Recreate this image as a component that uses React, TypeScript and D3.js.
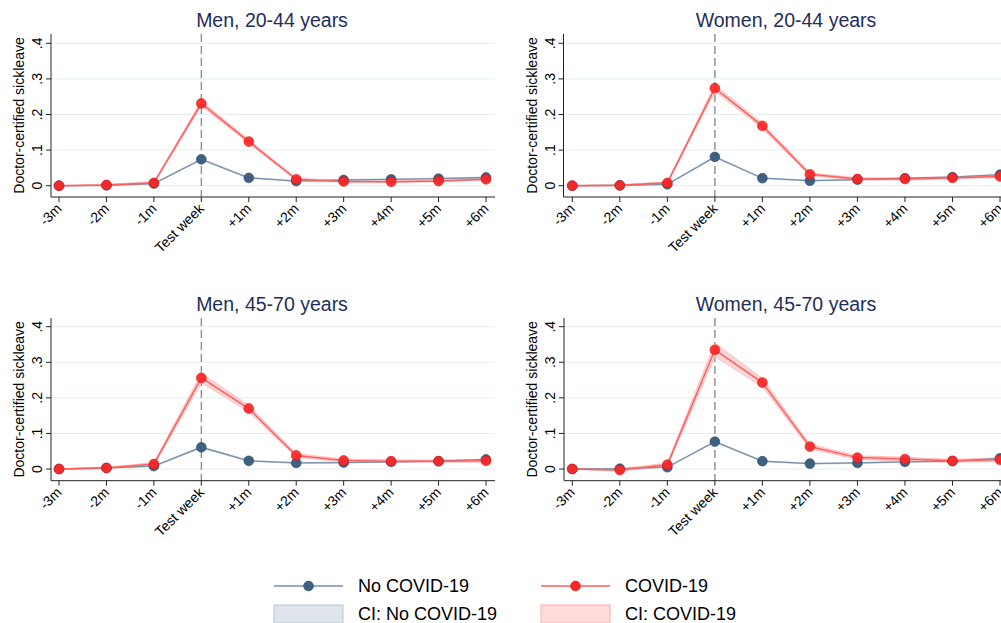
import React from "react";
import * as d3 from "d3";

const periods = ["-3m", "-2m", "-1m", "Test week", "+1m", "+2m", "+3m", "+4m", "+5m", "+6m"];
const yTicks = [0, 0.1, 0.2, 0.3, 0.4];
const yTickLabels = ["0", ".1", ".2", ".3", ".4"];
const panelTitles = ["Men, 20-44 years", "Women, 20-44 years", "Men, 45-70 years", "Women, 45-70 years"];

const noCovid = [
  [0, 0.001, 0.006, 0.074, 0.022, 0.013, 0.016, 0.018, 0.02, 0.023],
  [0, 0.001, 0.004, 0.081, 0.021, 0.014, 0.017, 0.021, 0.024, 0.031],
  [0, 0.003, 0.008, 0.061, 0.023, 0.017, 0.018, 0.02, 0.022, 0.027],
  [0, 0.001, 0.005, 0.077, 0.022, 0.015, 0.017, 0.02, 0.022, 0.03],
];
const noCovidCI = [
  [0.0005, 0.001, 0.001, 0.002, 0.0015, 0.0015, 0.0015, 0.0015, 0.0015, 0.0015],
  [0.0005, 0.001, 0.001, 0.002, 0.0015, 0.0015, 0.0015, 0.0015, 0.0015, 0.0015],
  [0.0005, 0.001, 0.001, 0.002, 0.0015, 0.0015, 0.0015, 0.0015, 0.0015, 0.0015],
  [0.0005, 0.001, 0.001, 0.002, 0.0015, 0.0015, 0.0015, 0.0015, 0.0015, 0.0015],
];
const covid = [
  [0, 0.002, 0.008, 0.231, 0.124, 0.018, 0.012, 0.011, 0.013, 0.018],
  [0, 0.001, 0.008, 0.274, 0.168, 0.032, 0.019, 0.019, 0.022, 0.026],
  [0, 0.003, 0.014, 0.256, 0.17, 0.038, 0.024, 0.022, 0.022, 0.023],
  [0, -0.003, 0.012, 0.335, 0.243, 0.063, 0.032, 0.028, 0.023, 0.026],
];
const covidCI = [
  [0.001, 0.002, 0.003, 0.007, 0.005, 0.003, 0.002, 0.002, 0.002, 0.002],
  [0.001, 0.002, 0.003, 0.009, 0.007, 0.004, 0.003, 0.003, 0.003, 0.003],
  [0.001, 0.002, 0.004, 0.013, 0.009, 0.005, 0.004, 0.004, 0.003, 0.004],
  [0.001, 0.003, 0.005, 0.019, 0.012, 0.006, 0.005, 0.005, 0.004, 0.005],
];

const BLUE_LINE = "#7890a8";
const BLUE_MARK = "#3f6080";
const BLUE_MARK_STROKE = "#2c4a68";
const RED_LINE = "#ff5e5e";
const RED_MARK = "#ff2626";
const RED_MARK_STROKE = "#e01414";
const TITLE = "#1f2d57";
const GRID = "#e6eef0";
const FONT = "Liberation Sans, Arial, sans-serif";

type PanelProps = { idx: number; axisX: number; x0: number; x1: number; y0: number; y4: number; top: number; axisY: number; right: number; titleX: number; titleY: number };

function Panel(p: PanelProps) {
  const x = d3.scalePoint<string>().domain(periods).range([p.x0, p.x1]);
  const y = d3.scaleLinear().domain([0, 0.4]).range([p.y0, p.y4]);
  const idxs = d3.range(periods.length);
  const mkLine = (vals: number[]) =>
    d3.line<number>().x((i) => x(periods[i])!).y((i) => y(vals[i]))(idxs) || "";
  const mkArea = (vals: number[], ci: number[]) =>
    d3
      .area<number>()
      .x((i) => x(periods[i])!)
      .y0((i) => y(vals[i] - ci[i]))
      .y1((i) => y(vals[i] + ci[i]))(idxs) || "";
  const tw = x("Test week")!;
  const yMid = (p.top + p.axisY) / 2;
  return (
    <g>
      <text x={p.titleX} y={p.titleY} textAnchor="middle" fontSize={19.5} fill={TITLE} fontFamily={FONT}>
        {panelTitles[p.idx]}
      </text>
      {yTicks.map((t) => (
        <line key={"g" + t} x1={p.axisX} x2={p.right} y1={y(t)} y2={y(t)} stroke={GRID} strokeWidth={1} />
      ))}
      <line x1={tw} x2={tw} y1={p.top} y2={p.axisY} stroke="#8a8a8a" strokeWidth={1.3} strokeDasharray="8,4" />
      <path d={mkArea(noCovid[p.idx], noCovidCI[p.idx])} fill="#dfe5eb" stroke="#b9c6d3" strokeWidth={0.6} />
      <path d={mkArea(covid[p.idx], covidCI[p.idx])} fill="#ffcccc" fillOpacity={0.8} stroke="#ffaaaa" strokeWidth={0.7} />
      <path d={mkLine(noCovid[p.idx])} fill="none" stroke={BLUE_LINE} strokeWidth={1.3} />
      <path d={mkLine(covid[p.idx])} fill="none" stroke={RED_LINE} strokeWidth={1.5} />
      {idxs.map((i) => (
        <circle key={"b" + i} cx={x(periods[i])!} cy={y(noCovid[p.idx][i])} r={4.9} fill={BLUE_MARK} stroke={BLUE_MARK_STROKE} strokeWidth={0.6} />
      ))}
      {idxs.map((i) => (
        <circle key={"r" + i} cx={x(periods[i])!} cy={y(covid[p.idx][i])} r={4.9} fill={RED_MARK} fillOpacity={0.92} stroke={RED_MARK_STROKE} strokeWidth={0.6} />
      ))}
      <line x1={p.axisX} x2={p.axisX} y1={p.top} y2={p.axisY} stroke="#222" strokeWidth={1} />
      <line x1={p.axisX} x2={p.right} y1={p.axisY} y2={p.axisY} stroke="#222" strokeWidth={1} />
      {yTicks.map((t, i) => (
        <g key={"yt" + t}>
          <line x1={p.axisX - 5} x2={p.axisX} y1={y(t)} y2={y(t)} stroke="#222" strokeWidth={1} />
          <text
            transform={`translate(${p.axisX - 9},${y(t)}) rotate(-90)`}
            textAnchor="middle"
            fontSize={14}
            fill="#000"
            fontFamily={FONT}
          >
            {yTickLabels[i]}
          </text>
        </g>
      ))}
      {periods.map((lab) => (
        <g key={"xt" + lab}>
          <line x1={x(lab)!} x2={x(lab)!} y1={p.axisY} y2={p.axisY + 5} stroke="#222" strokeWidth={1} />
          <text
            transform={`translate(${x(lab)! + 3.5},${p.axisY + 12.5}) rotate(-45)`}
            textAnchor="end"
            fontSize={14}
            fill="#000"
            fontFamily={FONT}
          >
            {lab}
          </text>
        </g>
      ))}
      <text
        transform={`translate(${p.axisX - 27},${yMid}) rotate(-90)`}
        textAnchor="middle"
        fontSize={14}
        fill="#000"
        fontFamily={FONT}
      >
        Doctor-certified sickleave
      </text>
    </g>
  );
}

export default function App() {
  const panels: PanelProps[] = [
    { idx: 0, axisX: 51, x0: 59, x1: 486, y0: 185.7, y4: 43.3, top: 34, axisY: 197, right: 495, titleX: 272, titleY: 27 },
    { idx: 1, axisX: 563.5, x0: 572.3, x1: 1000, y0: 185.7, y4: 43.3, top: 34, axisY: 197, right: 1010, titleX: 786, titleY: 27 },
    { idx: 2, axisX: 51, x0: 59, x1: 486, y0: 469, y4: 326.7, top: 318, axisY: 480.7, right: 495, titleX: 272, titleY: 310.5 },
    { idx: 3, axisX: 564, x0: 572.3, x1: 1000, y0: 469, y4: 326.7, top: 318, axisY: 480.7, right: 1010, titleX: 786, titleY: 310.5 },
  ];
  return (
    <svg width={1001} height={623} style={{ position: "absolute", left: 0, top: 0, background: "#fff" }}>
      <rect x={0} y={0} width={1001} height={623} fill="#fff" />
      {panels.map((p) => (
        <Panel key={p.idx} {...p} />
      ))}
      <g fontFamily={FONT} fontSize={18} fill="#000">
        <line x1={274} x2={343} y1={586} y2={586} stroke={BLUE_LINE} strokeWidth={1.3} />
        <circle cx={308.5} cy={586} r={4.9} fill={BLUE_MARK} stroke={BLUE_MARK_STROKE} strokeWidth={0.6} />
        <text x={358} y={592}>No COVID-19</text>
        <line x1={541} x2={610} y1={586} y2={586} stroke={RED_LINE} strokeWidth={1.5} />
        <circle cx={575.5} cy={586} r={4.9} fill={RED_MARK} stroke={RED_MARK_STROKE} strokeWidth={0.6} />
        <text x={625} y={592}>COVID-19</text>
        <rect x={274} y={605} width={69} height={18} fill="#dfe5eb" stroke="#b9c6d3" strokeWidth={1} />
        <text x={358} y={620}>CI: No COVID-19</text>
        <rect x={541} y={605} width={69} height={18} fill="#ffdcdc" stroke="#ffaaaa" strokeWidth={1} />
        <text x={625} y={620}>CI: COVID-19</text>
      </g>
    </svg>
  );
}
